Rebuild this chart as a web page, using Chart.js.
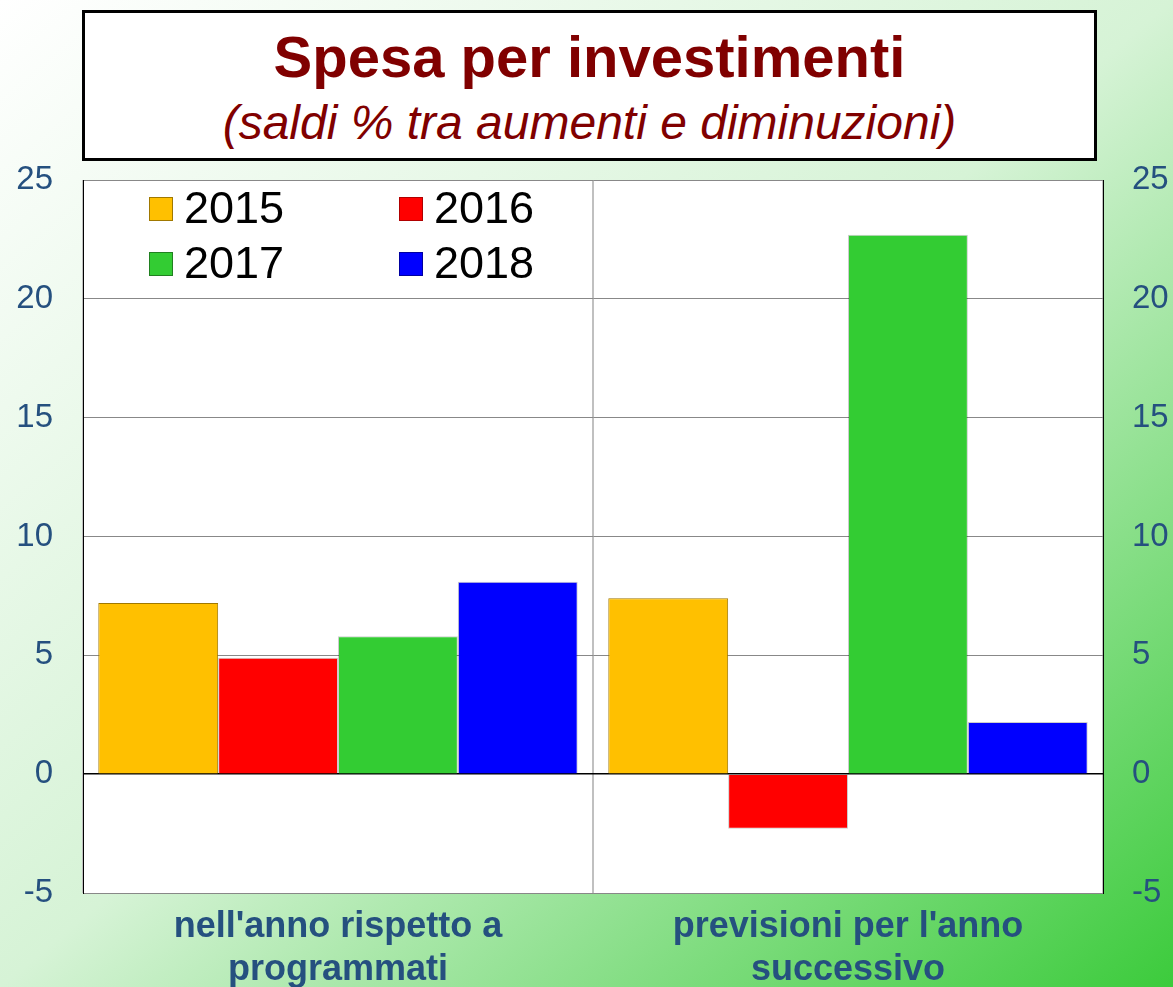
<!DOCTYPE html>
<html>
<head>
<meta charset="utf-8">
<script src="https://cdn.jsdelivr.net/npm/chart.js@4.4.1/dist/chart.umd.min.js"></script>
<style>
    html, body {
        margin: 0;
        padding: 0;
        width: 1173px;
        height: 987px;
        overflow: hidden;
        font-family: "Liberation Sans", Arial, sans-serif;
    }
    body {
        background: linear-gradient(to bottom right, #ffffff 0%, #d6f3d6 50%, #3ccb3c 100%);
        position: relative;
    }
    #titleBox {
        position: absolute;
        left: 82px;
        top: 10px;
        width: 1015px;
        height: 151px;
        box-sizing: border-box;
        border: 3px solid #000;
        background: #fff;
        color: #800000;
        text-align: center;
    }
    #titleBox .main {
        position: absolute;
        left: 0; right: 0;
        top: 11px;
        font-size: 58px;
        font-weight: bold;
        line-height: 66px;
    }
    #titleBox .sub {
        position: absolute;
        left: 0; right: 0;
        top: 82px;
        font-size: 48px;
        font-style: italic;
        line-height: 56px;
    }
    #chart {
        position: absolute;
        left: 0;
        top: 0;
    }
</style>
</head>
<body>
<canvas id="chart" width="1173" height="987"></canvas>
<div id="titleBox">
    <div class="main">Spesa per investimenti</div>
    <div class="sub">(saldi % tra aumenti e diminuzioni)</div>
</div>
<script>
    "use strict";

    const categories = [
        ["nell'anno rispetto a", "programmati"],
        ["previsioni per l'anno", "successivo"]
    ];
    const seriesNames = ["2015", "2016", "2017", "2018"];
    const values2015 = [7.2, 7.4];
    const values2016 = [4.9, -2.3];
    const values2017 = [5.8, 22.7];
    const values2018 = [8.1, 2.2];
    const yTicks = [-5, 0, 5, 10, 15, 20, 25];

    const fills = ['#FFC000', '#FF0000', '#33CC33', '#0000FF'];
    const edges = ['#A07800', '#B00000', '#208020', '#0000A0'];
    const tickColor = '#25507f';

    const allValues = [values2015, values2016, values2017, values2018];

    // white plot background
    const plotBackground = {
        id: 'plotBackground',
        beforeDraw: function (chart) {
            const a = chart.chartArea;
            chart.ctx.save();
            chart.ctx.fillStyle = '#ffffff';
            chart.ctx.fillRect(a.left, a.top, a.right - a.left, a.bottom - a.top);
            chart.ctx.restore();
        }
    };

    // legend drawn inside the plot, 2 x 2 grid
    const insideLegend = {
        id: 'insideLegend',
        afterDraw: function (chart) {
            const ctx = chart.ctx;
            const area = chart.chartArea;
            const colX = [area.left + 66, area.left + 316];
            const rowY = [area.top + 29, area.top + 84];
            ctx.save();
            ctx.font = '45px "Liberation Sans", Arial, sans-serif';
            ctx.textBaseline = 'middle';
            ctx.textAlign = 'left';
            chart.data.datasets.forEach(function (ds, i) {
                const x = colX[i % 2];
                const y = rowY[Math.floor(i / 2)];
                ctx.fillStyle = fills[i];
                ctx.fillRect(x, y - 12, 24, 24);
                ctx.strokeStyle = edges[i];
                ctx.lineWidth = 1;
                ctx.strokeRect(x + 0.5, y - 11.5, 23, 23);
                ctx.fillStyle = '#000';
                ctx.fillText(ds.label, x + 35, y + 2);
            });
            ctx.restore();
        }
    };

    const ctx = document.getElementById('chart').getContext('2d');

    new Chart(ctx, {
        type: 'bar',
        data: {
            labels: categories,
            datasets: seriesNames.map(function (name, i) {
                return {
                    label: name,
                    data: allValues[i],
                    backgroundColor: fills[i],
                    borderColor: i === 0 ? edges[0] : 'rgba(0,0,0,0.2)',
                    borderWidth: 1,
                    categoryPercentage: 0.94,
                    barPercentage: 1.0
                };
            })
        },
        plugins: [plotBackground, insideLegend],
        options: {
            responsive: false,
            animation: false,
            layout: {
                padding: {top: 180, left: 0, right: 0, bottom: 0}
            },
            plugins: {
                legend: {display: false},
                title: {display: false},
                tooltip: {enabled: false}
            },
            scales: {
                x: {
                    offset: true,
                    afterFit: function (scale) {
                        scale.height = 94;
                    },
                    grid: {
                        offset: true,
                        color: '#c0c0c0',
                        lineWidth: 2,
                        drawTicks: false
                    },
                    border: {color: '#888888', width: 1},
                    ticks: {
                        color: tickColor,
                        padding: 12,
                        maxRotation: 0,
                        font: {family: '"Liberation Sans", Arial, sans-serif', size: 36, weight: 'bold', lineHeight: 1.2}
                    }
                },
                y: {
                    position: 'left',
                    min: yTicks[0],
                    max: yTicks[yTicks.length - 1],
                    afterFit: function (scale) {
                        scale.width = 83;
                    },
                    afterBuildTicks: function (scale) {
                        scale.ticks = yTicks.map(v => ({value: v}));
                    },
                    grid: {
                        drawTicks: false,
                        color: c => (c.tick && c.tick.value === 0) ? '#000000' : '#888888',
                        lineWidth: c => (c.tick && c.tick.value === 0) ? 1.5 : 1
                    },
                    border: {color: '#000000', width: 1},
                    ticks: {
                        color: tickColor,
                        padding: 30,
                        font: {family: '"Liberation Sans", Arial, sans-serif', size: 33}
                    }
                },
                y2: {
                    position: 'right',
                    min: yTicks[0],
                    max: yTicks[yTicks.length - 1],
                    afterFit: function (scale) {
                        scale.width = 70;
                    },
                    afterBuildTicks: function (scale) {
                        scale.ticks = yTicks.map(v => ({value: v}));
                    },
                    grid: {display: false, drawTicks: false},
                    border: {color: '#000000', width: 1},
                    ticks: {
                        color: tickColor,
                        padding: 29,
                        font: {family: '"Liberation Sans", Arial, sans-serif', size: 33}
                    }
                }
            }
        }
    });
</script>
</body>
</html>
